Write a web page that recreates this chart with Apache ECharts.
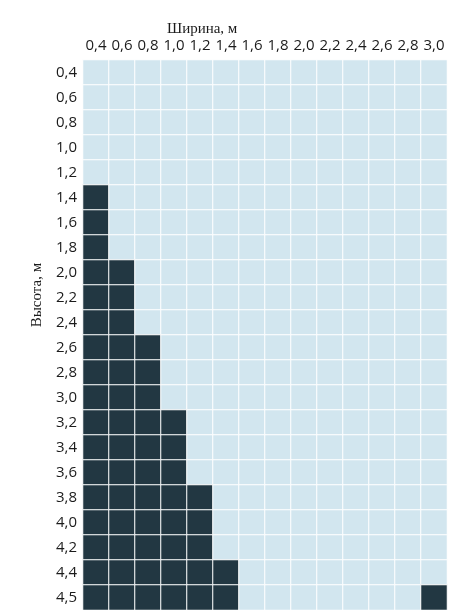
<!DOCTYPE html>
<html>
<head>
<meta charset="utf-8">
<script src="https://cdn.jsdelivr.net/npm/echarts@6/dist/echarts.min.js"></script>
<style>
  html, body { margin: 0; padding: 0; background: #fff; }
  #chart { width: 449px; height: 610px; }
</style>
</head>
<body>
<div id="chart"></div>
<script>
// widths along the top, heights down the side
const widths = ["0,4", "0,6", "0,8", "1,0", "1,2", "1,4", "1,6", "1,8", "2,0", "2,2", "2,4", "2,6", "2,8", "3,0"];
const heights = ["0,4", "0,6", "0,8", "1,0", "1,2", "1,4", "1,6", "1,8", "2,0", "2,2", "2,4",
  "2,6", "2,8", "3,0", "3,2", "3,4", "3,6", "3,8", "4,0", "4,2", "4,4", "4,5"];

// 1 = dark cell, one row per height
const cells = [
  [0,0,0,0,0,0,0,0,0,0,0,0,0,0],
  [0,0,0,0,0,0,0,0,0,0,0,0,0,0],
  [0,0,0,0,0,0,0,0,0,0,0,0,0,0],
  [0,0,0,0,0,0,0,0,0,0,0,0,0,0],
  [0,0,0,0,0,0,0,0,0,0,0,0,0,0],
  [1,0,0,0,0,0,0,0,0,0,0,0,0,0],
  [1,0,0,0,0,0,0,0,0,0,0,0,0,0],
  [1,0,0,0,0,0,0,0,0,0,0,0,0,0],
  [1,1,0,0,0,0,0,0,0,0,0,0,0,0],
  [1,1,0,0,0,0,0,0,0,0,0,0,0,0],
  [1,1,0,0,0,0,0,0,0,0,0,0,0,0],
  [1,1,1,0,0,0,0,0,0,0,0,0,0,0],
  [1,1,1,0,0,0,0,0,0,0,0,0,0,0],
  [1,1,1,0,0,0,0,0,0,0,0,0,0,0],
  [1,1,1,1,0,0,0,0,0,0,0,0,0,0],
  [1,1,1,1,0,0,0,0,0,0,0,0,0,0],
  [1,1,1,1,0,0,0,0,0,0,0,0,0,0],
  [1,1,1,1,1,0,0,0,0,0,0,0,0,0],
  [1,1,1,1,1,0,0,0,0,0,0,0,0,0],
  [1,1,1,1,1,0,0,0,0,0,0,0,0,0],
  [1,1,1,1,1,1,0,0,0,0,0,0,0,0],
  [1,1,1,1,1,1,0,0,0,0,0,0,0,1]
];

const data = [];
cells.forEach((row, y) => row.forEach((v, x) => data.push([x, y, v])));

const labelFont = { fontFamily: "Open Sans", fontSize: 15, color: "#1b1b1b", fontWeight: 500 };

const chart = echarts.init(document.getElementById("chart"), null, { renderer: "canvas" });
chart.setOption({
  animation: false,
  title: {
    text: "Ширина, м",
    left: 162,
    top: 17,
    textStyle: { fontFamily: "Liberation Serif", fontSize: 15, fontWeight: "normal", color: "#1b1b1b" }
  },
  graphic: [{
    type: "text",
    x: 37,
    y: 295,
    rotation: Math.PI / 2,
    style: {
      text: "Высота, м",
      font: "15px 'Liberation Serif'",
      fill: "#1b1b1b",
      align: "center",
      verticalAlign: "middle"
    }
  }],
  grid: { left: 83, top: 60, width: 364, height: 550 },
  xAxis: {
    type: "category",
    position: "top",
    data: widths,
    axisLine: { show: false },
    axisTick: { show: false },
    splitLine: { show: false },
    axisLabel: { ...labelFont, margin: 7, interval: 0 }
  },
  yAxis: {
    type: "category",
    inverse: true,
    data: heights,
    axisLine: { show: false },
    axisTick: { show: false },
    splitLine: { show: false },
    axisLabel: { ...labelFont, margin: 6, interval: 0 }
  },
  visualMap: {
    show: false,
    type: "piecewise",
    dimension: 2,
    pieces: [
      { value: 0, color: "#d2e6ef" },
      { value: 1, color: "#223742" }
    ]
  },
  series: [{
    type: "heatmap",
    data: data,
    itemStyle: { borderColor: "#ffffff", borderWidth: 1 },
    emphasis: { disabled: true }
  }]
});
</script>
</body>
</html>
